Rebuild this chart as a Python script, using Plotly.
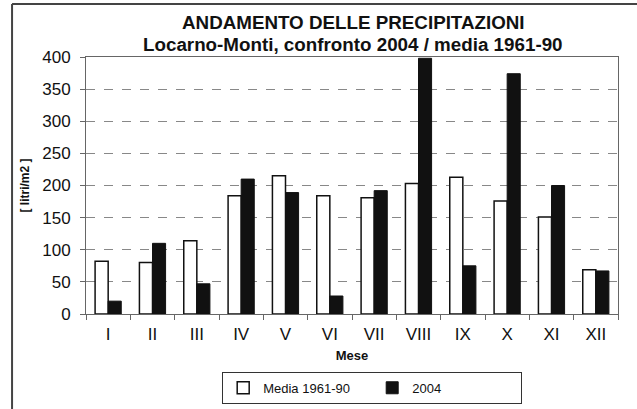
import plotly.graph_objects as go

months = ["I", "II", "III", "IV", "V", "VI", "VII", "VIII", "IX", "X", "XI", "XII"]
media_1961_90 = [82, 80, 114, 184, 215, 184, 181, 203, 213, 176, 151, 69]
anno_2004 = [20, 110, 47, 210, 189, 28, 192, 398, 75, 374, 200, 67]
y_ticks = [0, 50, 100, 150, 200, 250, 300, 350, 400]

FONT = "Liberation Sans, Arial, sans-serif"

fig = go.Figure()
fig.add_trace(go.Bar(x=months, y=media_1961_90, name="Media 1961-90",
                     marker=dict(color="white", line=dict(color="#111", width=1.5))))
fig.add_trace(go.Bar(x=months, y=anno_2004, name="2004",
                     marker=dict(color="#111", line=dict(color="#111", width=1))))

fig.update_layout(
    width=637, height=409,
    margin=dict(l=86, r=19, t=57, b=95, autoexpand=False),
    paper_bgcolor="white", plot_bgcolor="white",
    barmode="group", bargap=0.41, bargroupgap=0,
    font=dict(family=FONT, color="#111"),
    legend=dict(orientation="h", x=0.256, xanchor="left", y=-0.225, yanchor="top",
                bordercolor="#333", borderwidth=1, bgcolor="white",
                font=dict(size=13, family=FONT), itemwidth=30,
                entrywidthmode="pixels", entrywidth=104, tracegroupgap=0,
                traceorder="normal"),
    showlegend=True,
)
fig.add_annotation(text="<b>ANDAMENTO DELLE PRECIPITAZIONI</b>", xref="paper", yref="paper",
                   x=0.502, y=(314 - 22) / 257, xanchor="center", yanchor="middle",
                   showarrow=False, font=dict(size=18.8, family=FONT, color="#111"))
fig.add_annotation(text="<b>Locarno-Monti, confronto 2004 / media 1961-90</b>", xref="paper", yref="paper",
                   x=0.502, y=(314 - 45) / 257, xanchor="center", yanchor="middle",
                   showarrow=False, font=dict(size=18.8, family=FONT, color="#111"))
fig.update_yaxes(range=[0, 400], tickvals=y_ticks, showgrid=True,
                 gridcolor="#888", griddash="dash", gridwidth=1,
                 showline=True, linecolor="#666", linewidth=1, mirror=True,
                 ticks="outside", ticklen=5, tickcolor="#666", ticklabelstandoff=6,
                 tickfont=dict(size=17, family=FONT), automargin=False,
                 title=dict(text="<b>[ litri/m2 ]</b>", font=dict(size=12, family=FONT), standoff=10),
                 zeroline=False)
fig.update_xaxes(showline=True, linecolor="#666", linewidth=1, mirror=True,
                 ticks="outside", ticklen=5, tickcolor="#666", tickson="boundaries",
                 ticklabelstandoff=5,
                 tickfont=dict(size=17, family=FONT), automargin=False,
                 title=dict(text="<b>Mese</b>", font=dict(size=13, family=FONT), standoff=7))

# outer chart frame
fig.add_shape(type="line", xref="paper", yref="paper", x0=-0.139, x1=1.1, y0=1.206, y1=1.206,
              line=dict(color="#444", width=2))
fig.add_shape(type="line", xref="paper", yref="paper", x0=-0.139, x1=-0.139, y0=1.206, y1=-0.4,
              line=dict(color="#444", width=2))

fig.write_html("out.html", config={"displayModeBar": False},
               post_script="document.body.style.margin='0';document.body.style.overflow='hidden';")
